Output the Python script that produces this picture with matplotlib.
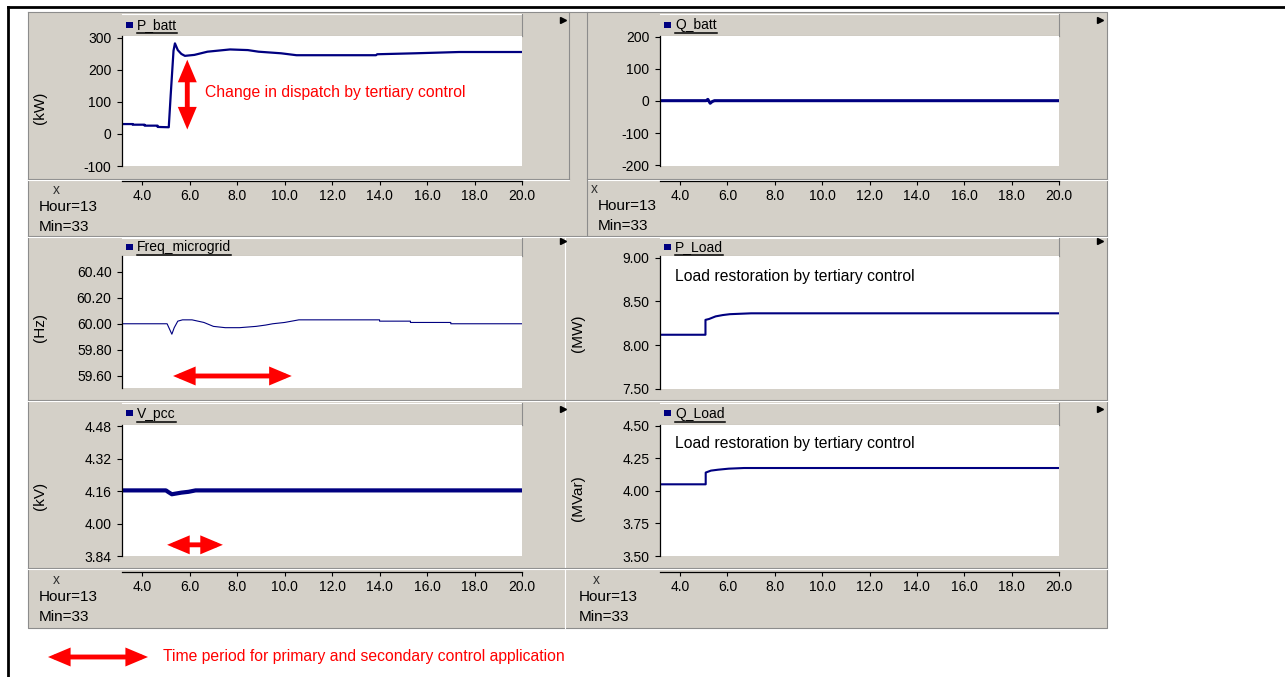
import matplotlib
matplotlib.use("Agg")
import matplotlib.pyplot as plt
from matplotlib.patches import Rectangle, FancyArrowPatch
from matplotlib.lines import Line2D

plt.rcParams['font.family'] = ['Liberation Sans', 'DejaVu Sans']
plt.rcParams['axes.unicode_minus'] = False

# ---- values (time axis in s) ----
x_ticks = [4.0, 6.0, 8.0, 10.0, 12.0, 14.0, 16.0, 18.0, 20.0]
t_start, t_end = 3.15, 20.0

p_batt_t = [3.15, 3.6, 3.6, 4.1, 4.1, 4.65, 4.65, 5.12, 5.2, 5.32, 5.38, 5.5, 5.65, 5.8,
            6.2, 6.75, 7.7, 8.45, 8.9, 9.85, 10.5, 13.85, 13.9, 15.5, 17.35, 20.0]
p_batt_kw = [31, 31, 29, 29, 26, 26, 22, 21, 120, 260, 283, 262, 250, 244,
             247, 257, 264, 262, 257, 252, 246, 246, 249, 252, 256, 256]
p_batt_ticks = [-100, 0, 100, 200, 300]

q_batt_t = [3.15, 5.1, 5.17, 5.27, 5.35, 5.45, 20.0]
q_batt_kvar = [1, 1, 5, -7, -2, 1, 1]
q_batt_ticks = [-200, -100, 0, 100, 200]

freq_t = [3.15, 5.05, 5.15, 5.25, 5.35, 5.5, 5.7, 6.1, 6.6, 7.0, 7.5, 8.1, 8.8, 9.2, 9.5,
          10.0, 10.6, 14.0, 14.0, 15.3, 15.3, 17.0, 17.0, 20.0]
freq_hz = [60.00, 60.00, 59.96, 59.92, 59.97, 60.02, 60.03, 60.03, 60.01, 59.98, 59.97, 59.97,
           59.98, 59.99, 60.00, 60.01, 60.03, 60.03, 60.02, 60.02, 60.01, 60.01, 60.00, 60.00]
freq_ticks = [59.6, 59.8, 60.0, 60.2, 60.4]

p_load_t = [3.15, 5.07, 5.07, 5.22, 5.5, 5.8, 6.1, 7.0, 20.0]
p_load_mw = [8.12, 8.12, 8.29, 8.30, 8.33, 8.345, 8.355, 8.365, 8.365]
p_load_ticks = [7.5, 8.0, 8.5, 9.0]

v_pcc_t = [3.15, 5.0, 5.1, 5.25, 5.4, 5.65, 5.95, 6.25, 20.0]
v_pcc_kv = [4.163, 4.163, 4.155, 4.144, 4.147, 4.152, 4.156, 4.163, 4.163]
v_pcc_ticks = [3.84, 4.00, 4.16, 4.32, 4.48]

q_load_t = [3.15, 5.08, 5.08, 5.3, 5.6, 6.05, 6.7, 20.0]
q_load_mvar = [4.05, 4.05, 4.14, 4.155, 4.162, 4.17, 4.175, 4.175]
q_load_ticks = [3.50, 3.75, 4.00, 4.25, 4.50]

W, H = 1285, 677
GRAY = '#d4d0c8'
SHADE = '#8c8c8c'
NAVY = '#000080'
RED = '#ff0000'

fig = plt.figure(figsize=(W / 100, H / 100), dpi=100)
fig.patch.set_facecolor('white')


# everything below is placed in screenshot pixels (origin top-left)
def px_rect(x0, y0, x1, y1, **kw):
    fig.add_artist(Rectangle((x0 / W, 1 - y1 / H), (x1 - x0) / W, (y1 - y0) / H,
                             transform=fig.transFigure, **kw))


def px_line(xs, ys, color, lw=0.8, **kw):
    fig.add_artist(Line2D([x / W for x in xs], [1 - y / H for y in ys],
                          transform=fig.transFigure, color=color, lw=lw, **kw))


def px_text(x, y, s, **kw):
    return fig.text(x / W, 1 - y / H, s, **kw)


def px_axes(x0, y0, x1, y1):
    ax = fig.add_axes([x0 / W, 1 - y1 / H, (x1 - x0) / W, (y1 - y0) / H])
    ax.set_zorder(5)
    return ax


# outer frame of the figure
px_line([8, W], [7, 7], 'black', lw=2)
px_line([8, 8], [7, H], 'black', lw=2)

# grey window area and separators
px_rect(28, 12, 1107, 628, facecolor=GRAY, edgecolor='none')
px_line([28, 1107, 1107, 28, 28], [12, 12, 628, 628, 12], SHADE)
px_line([28, 569], [179, 179], SHADE)
px_line([28, 569], [180, 180], 'white')
px_line([587, 1107], [179, 179], SHADE)
px_line([587, 1107], [180, 180], 'white')
px_line([569, 569], [12, 179], SHADE)
px_line([587, 587], [12, 236], SHADE)
px_line([28, 1107], [236, 236], SHADE)
px_line([28, 1107], [237, 237], 'white')
px_line([565, 565], [237, 628], 'white')
px_line([28, 1107], [400, 400], SHADE)
px_line([28, 1107], [401, 401], 'white')
px_line([28, 1107], [568, 568], SHADE)
px_line([28, 1107], [569, 569], 'white')

for ax_, ay_ in [(563, 20), (1100, 20), (563, 241), (1100, 241), (563, 409), (1100, 409)]:
    fig.add_artist(Line2D([ax_ / W], [1 - ay_ / H], transform=fig.transFigure,
                          marker='>', markersize=5, color='black', lw=0))


def draw_panel(name, x0, x1, head_top, plot_top, plot_bottom, t, v, ylim, yticks, fmt, lw):
    px_rect(x0, head_top, x1, plot_top, facecolor=GRAY, edgecolor='none')
    px_line([x0, x1], [head_top, head_top], 'white')
    px_line([x1, x1], [head_top, plot_top], SHADE)
    px_line([x0, x1], [plot_top, plot_top], SHADE)
    mid = (head_top + plot_top) / 2
    px_rect(x0 + 4, mid - 3.5, x0 + 11, mid + 2.5, facecolor=NAVY, edgecolor='none')
    label = px_text(x0 + 15, mid, name, fontsize=10, va='center')
    bb = label.get_window_extent(fig.canvas.get_renderer())
    px_line([bb.x0, bb.x1], [mid + 7.5, mid + 7.5], 'black', lw=1.1)

    ax = px_axes(x0, plot_top, x1, plot_bottom)
    ax.set_facecolor('white')
    ax.plot(t, v, color=NAVY, lw=lw)
    ax.set_xlim(t_start, t_end)
    ax.set_ylim(*ylim)
    ax.set_yticks(yticks)
    ax.set_yticklabels([fmt.format(y) for y in yticks])
    ax.set_xticks([])
    for s in ('top', 'right', 'bottom'):
        ax.spines[s].set_visible(False)
    ax.spines['left'].set_linewidth(0.9)
    ax.tick_params(axis='y', direction='out', length=3.5, width=0.8, pad=4, labelsize=10)
    return ax


def draw_time_axis(x0, x1, y, info_x, cross_x, info_y):
    ax = px_axes(x0, y - 1, x1, y)
    ax.patch.set_visible(False)
    ax.set_xlim(t_start, t_end)
    ax.set_yticks([])
    ax.set_xticks(x_ticks)
    ax.set_xticklabels(['%.1f' % x for x in x_ticks])
    for s in ('top', 'right', 'left'):
        ax.spines[s].set_visible(False)
    ax.spines['bottom'].set_linewidth(0.9)
    ax.tick_params(axis='x', direction='out', length=3, width=0.8, pad=3, labelsize=10)
    px_text(cross_x, info_y, 'x', fontsize=10, ha='center', va='center', color='#303030')
    px_text(info_x, info_y + 17, 'Hour=13', fontsize=11, va='center')
    px_text(info_x, info_y + 37, 'Min=33', fontsize=11, va='center')


ax1 = draw_panel('P_batt', 122, 522, 14, 36, 166, p_batt_t, p_batt_kw,
                 (-100, 306), p_batt_ticks, '{:.0f}', 1.6)
ax2 = draw_panel('Q_batt', 660, 1059, 14, 36, 166, q_batt_t, q_batt_kvar,
                 (-203, 203), q_batt_ticks, '{:.0f}', 2.2)
ax3 = draw_panel('Freq_microgrid', 122, 522, 238, 256, 388, freq_t, freq_hz,
                 (59.508, 60.519), freq_ticks, '{:.2f}', 0.8)
ax4 = draw_panel('P_Load', 660, 1059, 238, 256, 389, p_load_t, p_load_mw,
                 (7.5, 9.02), p_load_ticks, '{:.2f}', 1.5)
ax5 = draw_panel('V_pcc', 122, 522, 403, 425, 556, v_pcc_t, v_pcc_kv,
                 (3.84, 4.485), v_pcc_ticks, '{:.2f}', 3.0)
ax6 = draw_panel('Q_Load', 660, 1059, 403, 425, 556, q_load_t, q_load_mvar,
                 (3.5, 4.505), q_load_ticks, '{:.2f}', 1.5)

draw_time_axis(122, 522, 181, 39, 56, 190)
draw_time_axis(660, 1059, 181, 598, 594, 189)
draw_time_axis(122, 522, 572, 39, 56, 580)
draw_time_axis(660, 1059, 572, 579, 596, 580)

for (x, y, s) in [(40, 108, '(kW)'), (40, 328, '(Hz)'), (40, 496, '(kV)'),
                  (578, 333, '(MW)'), (578, 498, '(MVar)')]:
    px_text(x, y, s, fontsize=11, rotation=90, ha='center', va='center')

# annotations
arrow_style = '<|-|>,head_length=1.0,head_width=0.42'
arrow_kw = dict(arrowstyle=arrow_style, color=RED, lw=3.5, mutation_scale=10,
                shrinkA=0, shrinkB=0, joinstyle='miter', capstyle='butt')
ax1.annotate('', xy=(5.9, 232), xytext=(5.9, 14), arrowprops=arrow_kw)
ax1.text(6.65, 131, 'Change in dispatch by tertiary control', color=RED, fontsize=11.3, va='center')
ax3.annotate('', xy=(5.3, 59.60), xytext=(10.3, 59.60), arrowprops=arrow_kw)
ax5.annotate('', xy=(5.05, 3.895), xytext=(7.4, 3.895), arrowprops=arrow_kw)
ax4.text(3.8, 8.78, 'Load restoration by tertiary control', fontsize=11.3, va='center')
ax6.text(3.8, 4.36, 'Load restoration by tertiary control', fontsize=11.3, va='center')

fig.add_artist(FancyArrowPatch(
    (48 / W, 1 - 657 / H), (148 / W, 1 - 657 / H), transform=fig.transFigure, **arrow_kw))
px_text(163, 657, 'Time period for primary and secondary control application',
        color=RED, fontsize=11.3, va='center')

fig.savefig('out.png', dpi=100, facecolor='white')
